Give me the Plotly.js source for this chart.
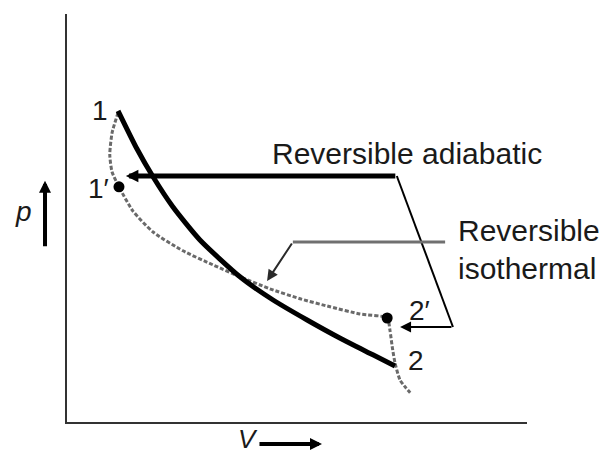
<!DOCTYPE html>
<html>
<head>
<meta charset="utf-8">
<script src="https://cdn.plot.ly/plotly-3.0.1.min.js"></script>
<style>
  html, body { margin: 0; padding: 0; background: #fff; }
  #chart { width: 600px; height: 454px; }
</style>
</head>
<body>
<div id="chart"></div>
<script>
// Reversible adiabatic expansion 1 -> 2 (solid, heavy)
const V_adiabatic = [1.11, 1.52, 1.87, 2.30, 2.89, 3.76, 4.48, 5.22, 5.93, 6.65, 7.13];
const p_adiabatic = [7.78, 6.83, 6.13, 5.38, 4.55, 3.63, 3.05, 2.55, 2.10, 1.68, 1.40];

// Reversible isothermal path through 1' and 2' (dashed)
const V_isothermal = [1.11, 0.98, 0.93, 0.98, 1.13, 1.43, 1.87, 2.52, 3.17, 3.76, 4.41, 5.07, 5.72, 6.37, 6.96, 7.02, 7.07, 7.13, 7.24, 7.46];
const p_isothermal = [7.73, 7.23, 6.68, 6.25, 5.88, 5.28, 4.75, 4.28, 3.93, 3.63, 3.33, 3.08, 2.88, 2.70, 2.60, 2.30, 1.88, 1.48, 1.05, 0.73];

// State points and their labels
const stateNames = ['1', '1\u2032', '2\u2032', '2'];
const V_state = [1.11, 1.13, 6.96, 7.13];
const p_state = [7.78, 5.88, 2.60, 1.40];
const markedStates = ['1\u2032', '2\u2032'];

// Callout labels
const adiabaticLabel = 'Reversible adiabatic';
const isothermalLabel = ['Reversible', 'isothermal'];
const pLabel = '<i>p</i>';
const vLabel = '<i>V</i>';

const FONT = '"Liberation Sans", Arial, Helvetica, sans-serif';
const INK = '#1a1a1a';

const marked = stateNames.map((n, i) => markedStates.includes(n) ? i : -1).filter(i => i >= 0);

const traces = [
  {
    x: V_isothermal, y: p_isothermal,
    mode: 'lines', type: 'scatter',
    line: { color: '#6a6a6a', width: 3, dash: '4px,2px', shape: 'spline', smoothing: 0.6 },
    hoverinfo: 'skip'
  },
  {
    x: V_adiabatic, y: p_adiabatic,
    mode: 'lines', type: 'scatter',
    line: { color: '#000', width: 5, shape: 'spline', smoothing: 0.6 },
    hoverinfo: 'skip'
  },
  {
    x: marked.map(i => V_state[i]), y: marked.map(i => p_state[i]),
    mode: 'markers', type: 'scatter',
    marker: { color: '#000', size: 11 },
    hoverinfo: 'skip'
  }
];

// label offsets (pixels) beside each state point
const labelShift = { '1': [-18, 0], '1\u2032': [-20, -2], '2\u2032': [32, 8], '2': [21, 6] };

const annotations = stateNames.map((n, i) => ({
  x: V_state[i], y: p_state[i], xref: 'x', yref: 'y',
  text: n, showarrow: false,
  xshift: labelShift[n][0], yshift: labelShift[n][1],
  font: { family: FONT, size: 28, color: INK }
}));

// adiabatic callout: heavy arrow to 1', thin arrow to 2'
const adiaTip1 = [1.28, 6.15], adiaCorner = [7.17, 6.15], adiaLow = [8.39, 2.375], adiaTip2 = [7.24, 2.375];
// isothermal callout
const isoRight = [8.22, 4.5], isoBend = [4.91, 4.5], isoTip = [4.35, 3.525];

annotations.push(
  {
    x: adiaTip1[0], y: adiaTip1[1], ax: adiaCorner[0], ay: adiaCorner[1],
    xref: 'x', yref: 'y', axref: 'x', ayref: 'y', text: '',
    showarrow: true, arrowhead: 2, arrowsize: 0.5, arrowwidth: 5, arrowcolor: '#000'
  },
  {
    x: adiaTip2[0], y: adiaTip2[1], ax: adiaLow[0], ay: adiaLow[1],
    xref: 'x', yref: 'y', axref: 'x', ayref: 'y', text: '',
    showarrow: true, arrowhead: 2, arrowsize: 1.1, arrowwidth: 2, arrowcolor: '#000'
  },
  {
    x: isoTip[0], y: isoTip[1], ax: isoBend[0], ay: isoBend[1],
    xref: 'x', yref: 'y', axref: 'x', ayref: 'y', text: '',
    showarrow: true, arrowhead: 2, arrowsize: 1.1, arrowwidth: 2, arrowcolor: '#2a2a2a'
  },
  {
    x: 7.39, y: 6.72, xref: 'x', yref: 'y', text: adiabaticLabel, showarrow: false,
    font: { family: FONT, size: 30, color: INK }
  },
  {
    x: 8.45, y: 4.78, xref: 'x', yref: 'y', xanchor: 'left', text: isothermalLabel[0], showarrow: false,
    font: { family: FONT, size: 30, color: INK }
  },
  {
    x: 8.45, y: 3.85, xref: 'x', yref: 'y', xanchor: 'left', text: isothermalLabel[1], showarrow: false,
    font: { family: FONT, size: 30, color: INK }
  },
  // axis names with direction arrows
  {
    x: -0.118, y: 0.517, xref: 'paper', yref: 'paper', text: pLabel, showarrow: false,
    font: { family: FONT, size: 28, color: INK }
  },
  {
    x: -0.0478, y: 0.591, xref: 'paper', yref: 'paper', text: '', ax: 0, ay: 67,
    showarrow: true, arrowhead: 2, arrowsize: 0.6, arrowwidth: 4, arrowcolor: '#000'
  },
  {
    x: 0.394, y: -0.0515, xref: 'paper', yref: 'paper', yshift: -13, text: vLabel, showarrow: false,
    font: { family: FONT, size: 26, color: INK }
  },
  {
    x: 0.5543, y: -0.0515, xref: 'paper', yref: 'paper', yshift: -1, text: '', ax: -64, ay: 0,
    showarrow: true, arrowhead: 2, arrowsize: 0.6, arrowwidth: 4, arrowcolor: '#000'
  }
);

const shapes = [
  {
    type: 'line', xref: 'x', yref: 'y',
    x0: adiaCorner[0], y0: adiaCorner[1], x1: adiaLow[0], y1: adiaLow[1],
    line: { color: '#000', width: 2 }
  },
  {
    type: 'line', xref: 'x', yref: 'y',
    x0: isoRight[0], y0: isoRight[1], x1: isoBend[0], y1: isoBend[1],
    line: { color: '#707070', width: 3 }
  }
];

const axisStyle = {
  showline: true, linecolor: '#333', linewidth: 2,
  showgrid: false, zeroline: false, showticklabels: false, ticks: '',
  fixedrange: true
};

const layout = {
  width: 600, height: 454,
  margin: { l: 67, r: 73, t: 14, b: 32 },
  paper_bgcolor: '#fff', plot_bgcolor: '#fff',
  showlegend: false,
  xaxis: Object.assign({ range: [0, 10] }, axisStyle),
  yaxis: Object.assign({ range: [0, 10.2] }, axisStyle),
  annotations: annotations,
  shapes: shapes,
  hovermode: false
};

Plotly.newPlot('chart', traces, layout, { displayModeBar: false, staticPlot: true });
</script>
</body>
</html>
